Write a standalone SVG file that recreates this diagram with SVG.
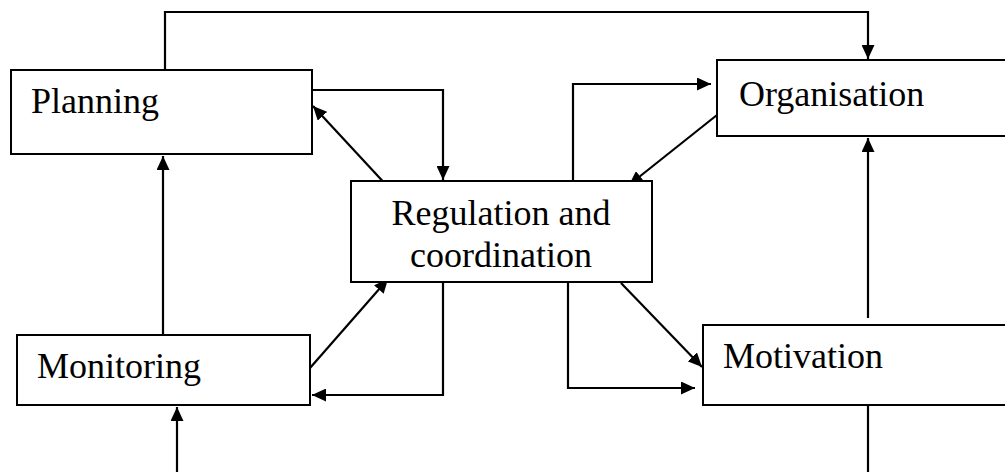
<svg xmlns="http://www.w3.org/2000/svg" width="1005" height="472" viewBox="0 0 1005 472">
<style>
.box{fill:#fff;stroke:#000;stroke-width:2}
.lbl{font-family:"Liberation Serif","Times New Roman",serif;font-size:36px;fill:#000}
.c{fill:none;stroke:#000;stroke-width:2.2}
</style>
<defs>
<marker id="ah" markerUnits="userSpaceOnUse" markerWidth="15" markerHeight="13" refX="14" refY="6.5" orient="auto">
<path d="M0,0 L14,6.5 L0,13 z" fill="#000"/>
</marker>
</defs>
<rect width="1005" height="472" fill="#fff"/>
<g id="connectors">
<path class="c" d="M165,70 V12 H868 V59" marker-end="url(#ah)"/>
<path class="c" d="M312,90 H443 V180" marker-end="url(#ah)"/>
<path class="c" d="M389,188 L313,106" marker-end="url(#ah)"/>
<path class="c" d="M163,335 V156" marker-end="url(#ah)"/>
<path class="c" d="M310,368 L388,279" marker-end="url(#ah)"/>
<path class="c" d="M443,282 V395 H312" marker-end="url(#ah)"/>
<path class="c" d="M177,472 V407" marker-end="url(#ah)"/>
<path class="c" d="M573,181 V84 H711" marker-end="url(#ah)"/>
<path class="c" d="M717,115 L629,185" marker-end="url(#ah)"/>
<path class="c" d="M868,318 V138" marker-end="url(#ah)"/>
<path class="c" d="M868,406 V472"/>
<path class="c" d="M621,283 L702,367" marker-end="url(#ah)"/>
<path class="c" d="M568,282 V388 H695" marker-end="url(#ah)"/>
</g>
<g id="planning">
<rect class="box" x="11" y="70" width="301" height="84"/>
<text class="lbl" x="31" y="113">Planning</text>
</g>
<g id="organisation">
<rect class="box" x="717" y="60" width="289" height="76"/>
<text class="lbl" x="739" y="106">Organisation</text>
</g>
<g id="regulation">
<rect class="box" x="351" y="181" width="301" height="101"/>
<text class="lbl" x="501" y="225" text-anchor="middle">Regulation and</text>
<text class="lbl" x="501" y="267" text-anchor="middle">coordination</text>
</g>
<g id="monitoring">
<rect class="box" x="17" y="335" width="293" height="70"/>
<text class="lbl" x="37" y="378">Monitoring</text>
</g>
<g id="motivation">
<rect class="box" x="703" y="325" width="303" height="80"/>
<text class="lbl" x="723" y="368">Motivation</text>
</g>
</svg>
